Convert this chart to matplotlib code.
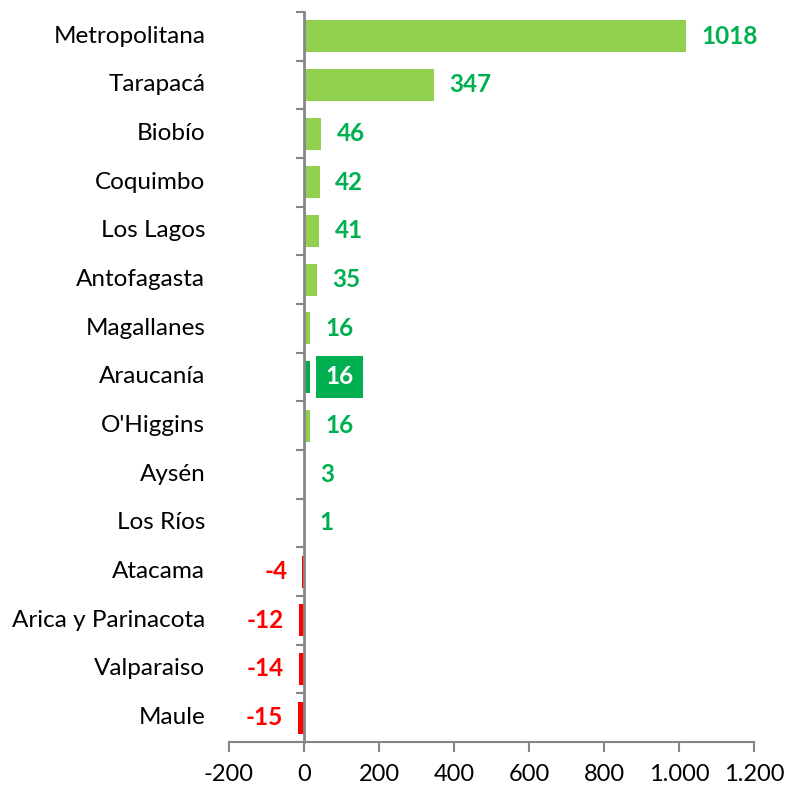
import matplotlib.pyplot as plt
from matplotlib.ticker import FuncFormatter, FixedLocator
import matplotlib.transforms as mtransforms

regions = ['Metropolitana', 'Tarapacá', 'Biobío', 'Coquimbo', 'Los Lagos',
           'Antofagasta', 'Magallanes', 'Araucanía', "O'Higgins", 'Aysén',
           'Los Ríos', 'Atacama', 'Arica y Parinacota', 'Valparaiso', 'Maule']
values = [1018, 347, 46, 42, 41, 35, 16, 16, 16, 3, 1, -4, -12, -14, -15]
highlight = 'Araucanía'

light_green = '#92D050'
dark_green = '#00B050'
red = '#FF0000'
gray = '#868686'

plt.rcParams['font.family'] = ['Lato', 'DejaVu Sans']

fig = plt.figure(figsize=(7.89, 7.89), dpi=100)
ax = fig.add_axes([0.2902, 0.0596, 0.6654, 0.9252])

ypos = list(range(len(regions)))
colors = []
for r, v in zip(regions, values):
    if r == highlight:
        colors.append(dark_green)
    elif v < 0:
        colors.append(red)
    else:
        colors.append(light_green)

ax.barh(ypos, values, height=0.66, color=colors, zorder=2)

ax.set_xlim(-200, 1200)
ax.set_ylim(len(regions) - 0.5, -0.5)

# value labels
for y, r, v in zip(ypos, regions, values):
    if v >= 0:
        kw = dict(xytext=(11, 0), ha='left')
    else:
        kw = dict(xytext=(-11, 0), ha='right')
    col = red if v < 0 else dark_green
    if r == highlight:
        ax.annotate(str(v), xy=(v, y), textcoords='offset points', va='center',
                    fontsize=17.5, fontweight='bold', color='white',
                    bbox=dict(boxstyle='square,pad=0.4', fc=dark_green, ec='none'),
                    **kw)
    else:
        ax.annotate(str(v), xy=(v, y), textcoords='offset points', va='center',
                    fontsize=17.5, fontweight='bold', color=col, **kw)

# category labels left of the plot area
trans = mtransforms.blended_transform_factory(ax.transAxes, ax.transData)
for y, r in zip(ypos, regions):
    ax.text(-0.045, y, r, transform=trans, ha='right', va='center',
            fontsize=17.5, color='black')

# axes styling
for s in ['top', 'right']:
    ax.spines[s].set_visible(False)
ax.spines['left'].set_position(('data', 0))
ax.spines['left'].set_color(gray)
ax.spines['left'].set_linewidth(2)
ax.spines['bottom'].set_color(gray)
ax.spines['bottom'].set_linewidth(1.5)

ax.yaxis.set_major_locator(FixedLocator([]))
ax.yaxis.set_minor_locator(FixedLocator([i - 0.5 for i in range(len(regions) + 1)]))
ax.tick_params(axis='y', which='minor', length=6, width=1.5, color=gray, direction='out')

ax.set_xticks(range(-200, 1201, 200))
ax.xaxis.set_major_formatter(FuncFormatter(lambda x, p: f'{int(x):,}'.replace(',', '.')))
ax.tick_params(axis='x', length=7, width=1.5, color=gray, labelsize=17, pad=9)

fig.savefig('out.png', dpi=100)
